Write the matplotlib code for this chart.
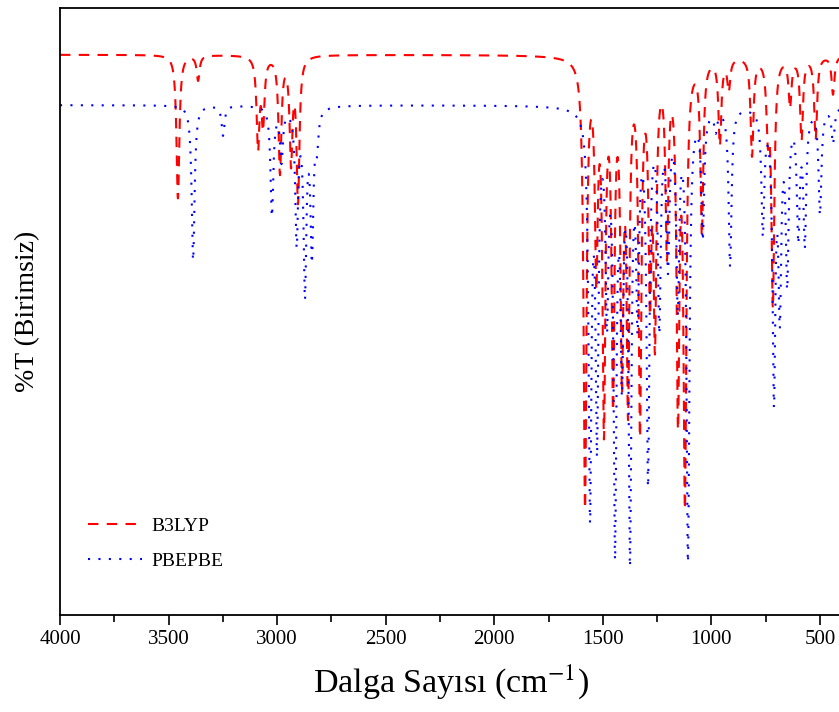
import numpy as np
import matplotlib.pyplot as plt

plt.rcParams['font.family'] = ['Liberation Serif', 'DejaVu Serif']
plt.rcParams['mathtext.fontset'] = 'stix'

# B3LYP: peak positions (cm-1) and depths (%T units)
b3lyp_pos = [3457, 3364, 3088, 3065, 2987, 2936, 2904,
             1582, 1530, 1495, 1453, 1412, 1384, 1329, 1283, 1260, 1205,
             1154, 1122, 1044, 961, 920, 813, 740, 717, 638, 585, 520, 440]
b3lyp_depth = [23.6, 4.1, 14.5, 10.7, 19.0, 16.8, 23.4,
               73.0, 33.0, 58.2, 53.0, 48.0, 53.5, 59.0, 35.0, 43.0, 30.0,
               56.0, 70.5, 28.3, 14.0, 5.0, 16.1, 10.7, 40.2, 7.9, 13.5, 13.5, 6.3]
b3lyp_base = 92.3

# PBEPBE
pbe_pos = [3387, 3249, 3024, 2980, 2910, 2872, 2840, 2817,
           1559, 1527, 1481, 1444, 1412, 1375, 1340, 1292, 1240, 1200, 1155,
           1108, 1040, 980, 914, 763, 712, 685, 651, 600, 570, 500, 440]
pbe_depth = [25.5, 4.9, 17.8, 8.6, 21.7, 29.5, 23.4, 5.3,
             64.7, 52.0, 31.0, 69.0, 39.0, 70.5, 31.0, 59.6, 34.0, 24.0, 31.0,
             73.4, 20.6, 3.3, 26.0, 19.8, 46.0, 31.0, 27.0, 20.0, 21.4, 17.3, 5.8]
pbe_base = 84.0

fwhm = 16.0
x = np.linspace(4000, 400, 3601)


def spectrum(pos, depth, base):
    y = np.full_like(x, base)
    for p, d in zip(pos, depth):
        y -= d / (1 + (2 * (x - p) / fwhm) ** 2)
    return y


fig = plt.figure(figsize=(8.39, 7.12), dpi=100)
ax = fig.add_axes([60 / 839, 97 / 712, 781.7 / 839, 607 / 712])

ax.plot(x, spectrum(b3lyp_pos, b3lyp_depth, b3lyp_base), color='red',
        lw=1.5, linestyle=(0, (5, 4)), label='B3LYP')
ax.plot(x, spectrum(pbe_pos, pbe_depth, pbe_base), color='blue',
        lw=1.5, linestyle=(0, (1, 4)), label='PBEPBE')

ax.set_xlim(4000, 400)
ax.set_ylim(0, 100)
ax.set_xticks(np.arange(4000, 499, -500))
ax.set_xticks(np.arange(3750, 400, -500), minor=True)
ax.set_yticks([])
ax.tick_params(axis='x', which='major', length=7, width=1.2, labelsize=15, direction='out')
ax.tick_params(axis='x', which='minor', length=5, width=1.2)
for s in ax.spines.values():
    s.set_linewidth(1.3)

ax.set_xlabel('Dalga Sayısı (cm$^{-1}$)', fontsize=24.5, labelpad=10)
ax.set_ylabel('%T (Birimsiz)', fontsize=20, labelpad=14)

ax.legend(loc='lower left', bbox_to_anchor=(0.013, 0.045), frameon=False,
          fontsize=14, handlelength=2.8, labelspacing=0.9, handletextpad=0.5)

fig.savefig('out.png', dpi=100)
